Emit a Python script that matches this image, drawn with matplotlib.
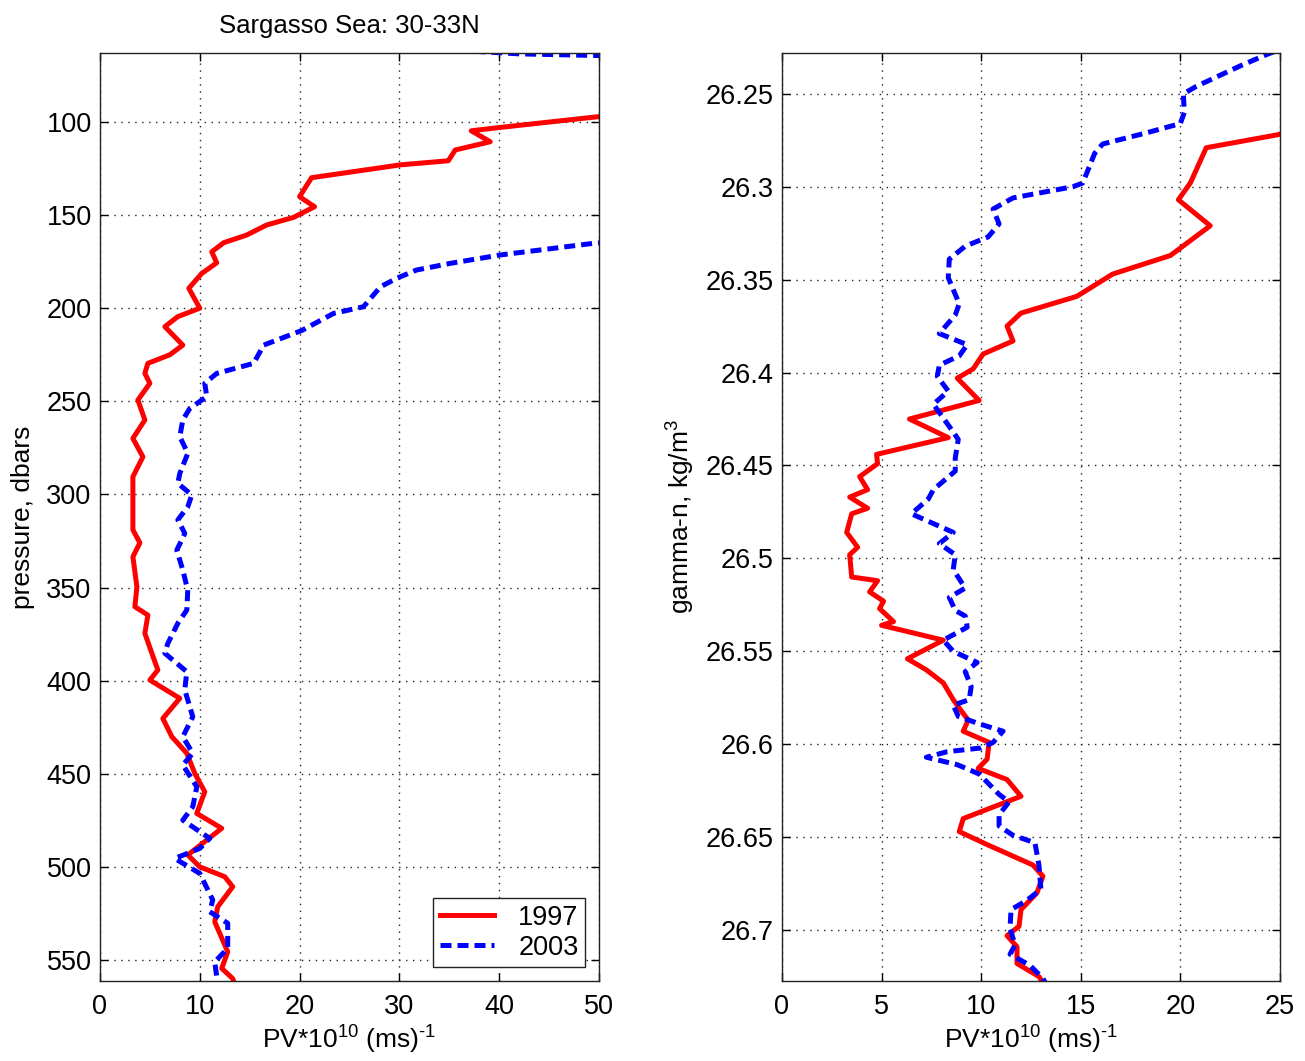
"""Potential vorticity profiles in the Sargasso Sea, 1997 vs 2003."""

import matplotlib

matplotlib.use("Agg")
import matplotlib.pyplot as plt
from matplotlib.ticker import FixedLocator, FuncFormatter

# left panel: PV vs pressure
pv_1997_p = [52.0, 49.8, 40.1, 37.2, 39.1, 35.6, 34.9, 30.1, 21.2, 20.0, 21.5, 19.4, 16.7, 14.7,
             12.4, 11.2, 11.7, 10.2, 8.9, 10.0, 7.8, 6.5, 8.3, 7.0, 4.8, 4.5, 5.0, 3.8, 4.5, 3.3,
             4.3, 3.3, 3.3, 4.0, 3.3, 3.7, 3.5, 4.8, 4.5, 5.2, 5.8, 5.0, 8.0, 6.3, 7.2, 8.7, 9.5,
             10.5, 9.7, 12.2, 8.8, 10.0, 12.5, 13.3, 11.8, 11.5, 12.8, 12.2, 13.3, 13.5]
pres_1997 = [96.0, 97.2, 102.9, 104.7, 110.6, 115.0, 120.8, 123.0, 129.9, 140.1, 145.5, 151.2,
             155.3, 160.7, 164.8, 169.7, 175.6, 181.3, 189.3, 200.0, 204.5, 209.9, 219.8, 225.0,
             229.6, 235.0, 240.3, 249.3, 260.0, 269.9, 279.8, 290.5, 319.0, 326.0, 333.5, 349.6,
             360.3, 364.8, 374.6, 385.3, 394.3, 399.7, 409.5, 420.3, 430.1, 439.0, 449.8, 459.7,
             471.3, 479.3, 493.6, 500.0, 505.3, 510.7, 521.4, 529.5, 545.6, 554.5, 560.0, 563.0]

pv_2003_p = [37.5, 42.0, 50.0, 53.0, 80.0, 55.0, 49.5, 40.1, 35.1, 31.7, 29.7, 28.1, 26.4, 23.4,
             20.2, 16.4, 15.4, 11.7, 10.5, 10.7, 9.0, 8.3, 8.0, 8.8, 8.0, 7.8, 9.2, 8.8, 7.8, 8.5,
             7.7, 8.3, 8.8, 8.7, 7.8, 6.8, 6.5, 8.7, 8.5, 9.3, 8.3, 9.3, 8.3, 9.7, 9.3, 8.3, 11.0,
             10.0, 7.5, 10.0, 11.3, 11.0, 12.8, 12.8, 11.5, 11.7, 11.8]
pres_2003 = [62.0, 63.4, 64.3, 64.5, 100.0, 163.0, 165.1, 171.4, 175.9, 179.5, 184.0, 188.5,
             199.2, 202.8, 212.0, 219.8, 229.6, 235.0, 240.3, 247.5, 253.8, 260.0, 269.0, 277.9,
             288.7, 294.0, 300.3, 306.6, 313.7, 320.9, 329.9, 340.6, 351.4, 362.1, 369.2, 380.0,
             385.3, 395.2, 405.0, 419.4, 430.1, 439.0, 445.3, 457.0, 467.7, 474.9, 484.7, 490.1,
             495.5, 503.5, 517.8, 524.1, 530.3, 543.8, 551.0, 559.0, 563.0]

# right panel: PV vs neutral density
pv_1997_g = [26.0, 24.9, 21.3, 20.5, 19.9, 21.5, 19.5, 16.6, 14.8, 12.0, 11.3, 11.6, 10.1, 9.6,
             8.8, 9.9, 6.4, 8.35, 4.75, 4.8, 3.9, 4.3, 3.4, 4.3, 3.5, 3.25, 3.8, 3.4, 3.5, 4.8,
             4.4, 5.1, 4.9, 5.6, 5.0, 8.1, 6.3, 7.25, 8.1, 8.6, 9.0, 9.35, 9.1, 10.4, 10.3, 9.85,
             11.3, 12.0, 9.1, 8.9, 10.3, 12.6, 13.1, 12.8, 12.0, 11.9, 11.3, 11.8, 11.8, 12.9, 13.2]
gamma_1997 = [26.268, 26.272, 26.279, 26.298, 26.307, 26.321, 26.337, 26.347, 26.359, 26.368,
              26.375, 26.383, 26.390, 26.398, 26.403, 26.415, 26.425, 26.435, 26.444, 26.449,
              26.456, 26.463, 26.467, 26.473, 26.476, 26.486, 26.494, 26.498, 26.510, 26.512,
              26.518, 26.523, 26.527, 26.534, 26.536, 26.544, 26.554, 26.560, 26.567, 26.576,
              26.582, 26.587, 26.593, 26.599, 26.608, 26.613, 26.619, 26.628, 26.640, 26.647,
              26.654, 26.665, 26.671, 26.680, 26.689, 26.698, 26.703, 26.709, 26.718, 26.725,
              26.730]

pv_2003_g = [25.5, 24.3, 23.0, 20.8, 20.15, 20.2, 20.0, 18.3, 16.1, 15.7, 15.1, 14.6, 11.6, 10.6,
             10.9, 10.35, 9.2, 8.4, 8.35, 8.9, 8.7, 7.9, 9.3, 8.9, 7.9, 7.8, 8.35, 7.6, 8.6, 8.85,
             8.7, 8.7, 7.6, 7.35, 6.5, 8.6, 7.9, 8.7, 8.6, 9.2, 8.4, 8.7, 9.2, 9.3, 8.1, 8.6, 9.8,
             9.2, 9.5, 9.4, 8.6, 8.85, 9.9, 11.1, 10.6, 10.0, 8.3, 7.25, 8.8, 9.9, 10.9, 11.4,
             10.9, 10.9, 11.6, 12.7, 12.9, 13.0, 12.3, 11.5, 11.45, 11.7, 11.45, 12.45, 13.1, 13.3]
gamma_2003 = [26.224, 26.229, 26.235, 26.246, 26.250, 26.260, 26.266, 26.271, 26.277, 26.282,
              26.298, 26.300, 26.306, 26.312, 26.320, 26.327, 26.332, 26.339, 26.349, 26.363,
              26.369, 26.379, 26.385, 26.391, 26.396, 26.402, 26.410, 26.417, 26.432, 26.436,
              26.446, 26.453, 26.463, 26.468, 26.476, 26.486, 26.492, 26.498, 26.506, 26.516,
              26.521, 26.528, 26.531, 26.537, 26.544, 26.550, 26.556, 26.561, 26.569, 26.576,
              26.579, 26.585, 26.589, 26.593, 26.599, 26.602, 26.604, 26.607, 26.611, 26.616,
              26.627, 26.631, 26.638, 26.644, 26.649, 26.653, 26.665, 26.678, 26.684, 26.689,
              26.699, 26.708, 26.713, 26.719, 26.726, 26.730]

years = ["1997", "2003"]
pres_ticks = [100, 150, 200, 250, 300, 350, 400, 450, 500, 550]
gamma_ticks = [26.25, 26.3, 26.35, 26.4, 26.45, 26.5, 26.55, 26.6, 26.65, 26.7]
pv_ticks_left = [0, 10, 20, 30, 40, 50]
pv_ticks_right = [0, 5, 10, 15, 20, 25]

RED = "#ff0000"
BLUE = "#0000ff"
DASH = (0, (2.2, 1.2))
# hyphen (not a math minus) in the exponent, as in the original figure
XLABEL = "PV*10$^{10}$ (ms)$^{\u20101}$"


def style_axis(axis, xticks, yticks):
    axis.xaxis.set_major_locator(FixedLocator(xticks))
    axis.yaxis.set_major_locator(FixedLocator(yticks))
    axis.yaxis.set_major_formatter(FuncFormatter(lambda v, _: f"{v:g}"))
    axis.tick_params(direction="in", length=6, width=1, top=True, right=True,
                     labelsize=19.5, colors="black")
    axis.tick_params(axis="x", pad=9)
    axis.tick_params(axis="y", pad=6)
    axis.grid(True, linestyle=(0, (1, 4)), color="#222222", linewidth=1.0)
    for spine in axis.spines.values():
        spine.set_linewidth(1.0)
        spine.set_color("#222222")
    axis.set_xlabel(XLABEL, fontsize=19, labelpad=3)


def main() -> None:
    plt.rcParams["font.family"] = ["Liberation Sans", "DejaVu Sans"]
    plt.rcParams["mathtext.fontset"] = "custom"
    plt.rcParams["mathtext.rm"] = "Liberation Sans"
    plt.rcParams["mathtext.it"] = "Liberation Sans:italic"
    plt.rcParams["mathtext.default"] = "regular"

    figure = plt.figure(figsize=(13.05, 10.61), dpi=100)
    left = figure.add_axes([0.0766, 0.0754, 0.3824, 0.8747])
    right = figure.add_axes([0.5992, 0.0754, 0.3816, 0.8747])

    left.plot(pv_1997_p, pres_1997, color=RED, linewidth=3.6, label=years[0])
    left.plot(pv_2003_p, pres_2003, color=BLUE, linewidth=3.6, linestyle=DASH, label=years[1])
    left.set_xlim(0, 50)
    left.set_ylim(561.3, 62.9)
    style_axis(left, pv_ticks_left, pres_ticks)
    left.set_ylabel("pressure, dbars", fontsize=19, labelpad=8)
    left.set_title("Sargasso Sea: 30-33N", fontsize=18.5, pad=14)
    legend = left.legend(loc="lower right", fontsize=19.5, handlelength=2.0, handletextpad=0.9,
                         borderpad=0.25, labelspacing=0.15, borderaxespad=0.5,
                         fancybox=False, framealpha=1)
    legend.get_frame().set_edgecolor("#222222")
    legend.get_frame().set_linewidth(1.0)

    right.plot(pv_1997_g, gamma_1997, color=RED, linewidth=3.6)
    right.plot(pv_2003_g, gamma_2003, color=BLUE, linewidth=3.6, linestyle=DASH)
    right.set_xlim(0, 25)
    right.set_ylim(26.7274, 26.228)
    style_axis(right, pv_ticks_right, gamma_ticks)
    right.set_ylabel(r"gamma-n, kg/m$^3$", fontsize=19, labelpad=6)

    figure.savefig("out.png", dpi=100)
    plt.close(figure)


if __name__ == "__main__":
    main()
